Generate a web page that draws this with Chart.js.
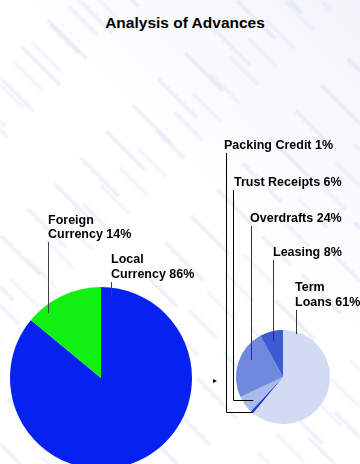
<!DOCTYPE html>
<html>
<head>
<meta charset="utf-8">
<title>Analysis of Advances</title>
<script src="https://cdn.jsdelivr.net/npm/chart.js@4.4.1/dist/chart.umd.min.js"></script>
<style>
  html, body { margin: 0; padding: 0; }
  body {
    width: 360px; height: 464px; overflow: hidden; position: relative;
    background: #fff; font-family: "Liberation Sans", Arial, sans-serif;
  }
  .streaks { position: absolute; inset: 0; pointer-events: none; filter: blur(1.1px); }
  .streaks.s1 {
    background: repeating-linear-gradient(45deg, transparent 0 13px, rgba(200,208,238,0.38) 13px 16px, transparent 16px 37px);
    -webkit-mask-image: repeating-linear-gradient(-45deg, #000 0 55px, transparent 55px 120px);
            mask-image: repeating-linear-gradient(-45deg, #000 0 55px, transparent 55px 120px);
  }
  .streaks.s2 {
    background: repeating-linear-gradient(45deg, transparent 0 7px, rgba(208,214,242,0.32) 7px 10px, transparent 10px 26px);
    -webkit-mask-image: repeating-linear-gradient(-45deg, transparent 0 40px, #000 40px 80px, transparent 80px 150px);
            mask-image: repeating-linear-gradient(-45deg, transparent 0 40px, #000 40px 80px, transparent 80px 150px);
  }
  .streaks.s3 {
    background: linear-gradient(225deg, rgba(220,225,245,0.35) 0%, rgba(255,255,255,0) 45%);
    filter: none;
  }
  canvas { position: absolute; }
  #title {
    position: absolute; left: 0; top: 14px; width: 370px; text-align: center;
    font-weight: bold; font-size: 15.5px; line-height: 18px; color: #000;
  }
  .lbl {
    position: absolute; font-weight: bold; font-size: 12.5px; line-height: 14px;
    color: #000; white-space: pre;
  }
  #marker {
    position: absolute; left: 213px; top: 379px; width: 0; height: 0;
    border-top: 2px solid transparent; border-bottom: 2px solid transparent; border-left: 4px solid #000;
  }
</style>
</head>
<body>
<div class="streaks s3"></div>
<div class="streaks s1"></div>
<div class="streaks s2"></div>
<div id="title">Analysis of Advances</div>
<canvas id="currencyPie" width="202" height="356" style="left:0;top:200px"></canvas>
<canvas id="facilityPie" width="154" height="494" style="left:206px;top:130px"></canvas>
<div id="marker"></div>

<script>
// Advances split by currency
const currencyNames = ['Local Currency', 'Foreign Currency'];
const currencyShares = [86, 14];

// Advances split by facility type
const facilityNames = ['Term Loans', 'Packing Credit', 'Trust Receipts', 'Overdrafts', 'Leasing'];
const facilityShares = [61, 1, 6, 24, 8];

const currencyColors = ['#0722f0', '#12f012'];
const facilityColors = ['#d3dbf4', '#1d3fcf', '#aab9ec', '#6f89dd', '#3b5ad3'];

// label boxes; "wrap" breaks the name after its first word
const currencyLabels = [
  { id: 'lbl-local', left: 111, top: 252, lh: 14.5, wrap: true, at: 0.023, depth: 0.9, color: '#444' },
  { id: 'lbl-foreign', left: 48, top: 213, lh: 14, wrap: true, at: 0.22, depth: 0.92, color: '#444' },
];
const facilityLabels = [
  { id: 'lbl-term', left: 295, top: 280, lh: 14.5, wrap: true, at: 0.077, depth: 0.955, color: '#333' },
  { id: 'lbl-packing', left: 224, top: 138, lh: 14, wrap: false, at: 0.5, depth: 0.98, color: '#000', elbow: true, dx: 2 },
  { id: 'lbl-trust', left: 234, top: 175, lh: 14, wrap: false, at: 0.43, depth: 0.8, color: '#000', elbow: true, dx: -1 },
  { id: 'lbl-overdrafts', left: 250, top: 211, lh: 14, wrap: false, at: 0.616, depth: 0.77, color: '#333' },
  { id: 'lbl-leasing', left: 273, top: 245, lh: 14, wrap: false, at: 0.46, depth: 0.8, color: '#333' },
];

function addLabels(names, shares, labels) {
  labels.forEach((l, i) => {
    const el = document.createElement('div');
    el.className = 'lbl';
    el.id = l.id;
    const name = l.wrap ? names[i].replace(' ', '\n') : names[i];
    el.textContent = `${name} ${shares[i]}%`;
    el.style.left = l.left + 'px';
    el.style.top = l.top + 'px';
    el.style.lineHeight = l.lh + 'px';
    document.body.appendChild(el);
  });
}

addLabels(currencyNames, currencyShares, currencyLabels);
addLabels(facilityNames, facilityShares, facilityLabels);

// Leader lines from each label down into its slice
const leaderPlugin = {
  id: 'leaders',
  afterDatasetsDraw(chart, args, opts) {
    const ctx = chart.ctx;
    const arcs = chart.getDatasetMeta(0).data;
    const box = chart.canvas.getBoundingClientRect();
    opts.items.forEach((item, i) => {
      const arc = arcs[i];
      const p = arc.getProps(['x', 'y', 'startAngle', 'endAngle', 'outerRadius'], true);
      const a = p.startAngle + (p.endAngle - p.startAngle) * item.at;
      const px = p.x + Math.cos(a) * p.outerRadius * item.depth;
      const py = p.y + Math.sin(a) * p.outerRadius * item.depth;
      const r = document.getElementById(item.id).getBoundingClientRect();
      const top = r.bottom - box.top + 1;

      ctx.save();
      ctx.strokeStyle = item.color;
      ctx.lineWidth = 1;
      ctx.beginPath();
      if (item.elbow) {
        const lx = Math.round(r.left - box.left + item.dx) + 0.5;
        const ly = Math.round(py) + 0.5;
        ctx.moveTo(lx, top);
        ctx.lineTo(lx, ly);
        ctx.lineTo(px, ly);
      } else {
        const lx = Math.round(px) + 0.5;
        ctx.moveTo(lx, top);
        ctx.lineTo(lx, py);
      }
      ctx.stroke();
      ctx.restore();
    });
  }
};

function makePie(canvasId, names, shares, colors, radius, labels) {
  return new Chart(document.getElementById(canvasId), {
    type: 'pie',
    data: {
      labels: names,
      datasets: [{
        data: shares,
        backgroundColor: colors,
        borderWidth: 0,
        radius: radius,
      }]
    },
    options: {
      responsive: false,
      animation: false,
      layout: { padding: 0 },
      plugins: {
        legend: { display: false },
        tooltip: { enabled: false },
        leaders: { items: labels },
      },
    },
    plugins: [leaderPlugin],
  });
}

makePie('currencyPie', currencyNames, currencyShares, currencyColors, 91, currencyLabels);
makePie('facilityPie', facilityNames, facilityShares, facilityColors, 47, facilityLabels);
</script>
</body>
</html>
